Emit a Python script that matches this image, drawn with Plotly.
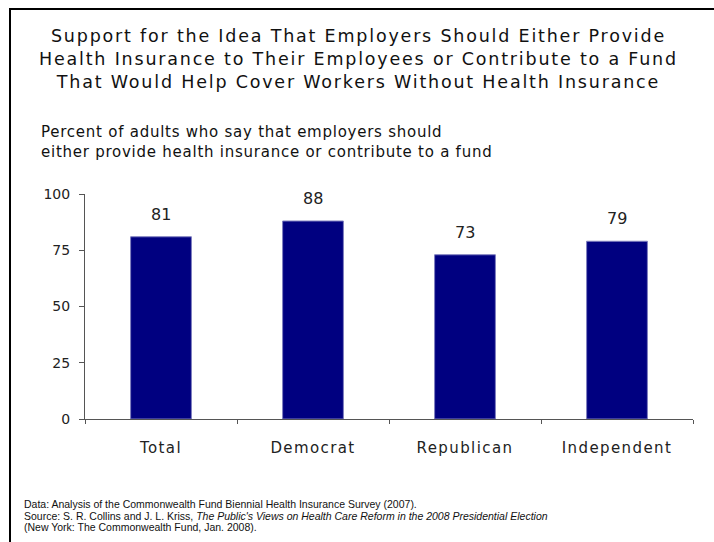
import plotly.graph_objects as go

categories = ["Total", "Democrat", "Republican", "Independent"]
values = [81, 88, 73, 79]
y_ticks = [0, 25, 50, 75, 100]

title_lines = [
    "Support for the Idea That Employers Should Either Provide",
    "Health Insurance to Their Employees or Contribute to a Fund",
    "That Would Help Cover Workers Without Health Insurance",
]
subtitle_lines = [
    "Percent of adults who say that employers should",
    "either provide health insurance or contribute to a fund",
]
footnote_lines = [
    "Data: Analysis of the Commonwealth Fund Biennial Health Insurance Survey (2007).",
    "Source: S. R. Collins and J. L. Kriss, <i>The Public's Views on Health Care Reform in the 2008 Presidential Election</i>",
    "(New York: The Commonwealth Fund, Jan. 2008).",
]

W, H = 714, 542
L, R, T, B = 85, 21, 194, 123
PW, PH = W - L - R, H - T - B


def px(x):
    return (x - L) / PW


def py(y):
    return (H - B - y) / PH


def spaced(s, sp):
    return '<span style="letter-spacing:%.2fpx">%s</span>' % (sp, s)


fig = go.Figure()
fig.add_trace(go.Bar(
    x=categories, y=values,
    marker=dict(color="#000080", line=dict(color="#7f7fbf", width=1)),
    width=0.4, hoverinfo="skip",
))

annotations = []
for c, v in zip(categories, values):
    annotations.append(dict(x=c, y=v, xref="x", yref="y", text=str(v), showarrow=False,
                            yanchor="bottom", yshift=11,
                            font=dict(family="DejaVu Sans", size=16, color="#222")))

annotations.append(dict(
    x=px(W / 2 + 1), y=py(24), xref="paper", yref="paper", xanchor="center", yanchor="top",
    text="<br>".join(spaced(s, 1.8) for s in title_lines),
    showarrow=False, align="center",
    font=dict(family="DejaVu Sans", size=17.5, color="#111"),
))

annotations.append(dict(
    x=px(39), y=py(121), xref="paper", yref="paper", xanchor="left", yanchor="top",
    text="<br>".join(spaced(s, 0.75) for s in subtitle_lines),
    showarrow=False, align="left",
    font=dict(family="DejaVu Sans", size=15, color="#111"),
))

for i, line in enumerate(footnote_lines):
    annotations.append(dict(
        x=px(22), y=py(504 + 11.5 * i), xref="paper", yref="paper", xanchor="left", yanchor="middle",
        text=line, showarrow=False, align="left",
        font=dict(family="Liberation Sans", size=10.5, color="#111"),
    ))

fig.update_layout(
    width=W, height=H,
    margin=dict(l=L, r=R, t=T, b=B),
    paper_bgcolor="white", plot_bgcolor="white",
    showlegend=False,
    annotations=annotations,
    bargap=0.6,
    shapes=[dict(type="rect", xref="paper", yref="paper",
                 x0=px(10), y0=py(560), x1=px(730), y1=py(9),
                 line=dict(color="black", width=2), fillcolor="rgba(0,0,0,0)")],
)
fig.update_xaxes(
    showline=True, linecolor="#555", linewidth=1,
    tickmode="array", tickvals=categories,
    ticktext=[spaced(c, 1.4) for c in categories],
    ticks="outside", tickson="boundaries", ticklen=4, tickcolor="#555",
    ticklabelstandoff=15,
    tickfont=dict(family="DejaVu Sans", size=15, color="#222"),
    showgrid=False, zeroline=False,
)
fig.update_yaxes(
    range=[0, 100], tickvals=y_ticks,
    showline=True, linecolor="#555", linewidth=1,
    ticks="outside", ticklen=5, tickcolor="#555",
    ticklabelstandoff=6,
    tickfont=dict(family="DejaVu Sans", size=14, color="#222"),
    showgrid=False, zeroline=False,
)

fig.write_html("out.html")
